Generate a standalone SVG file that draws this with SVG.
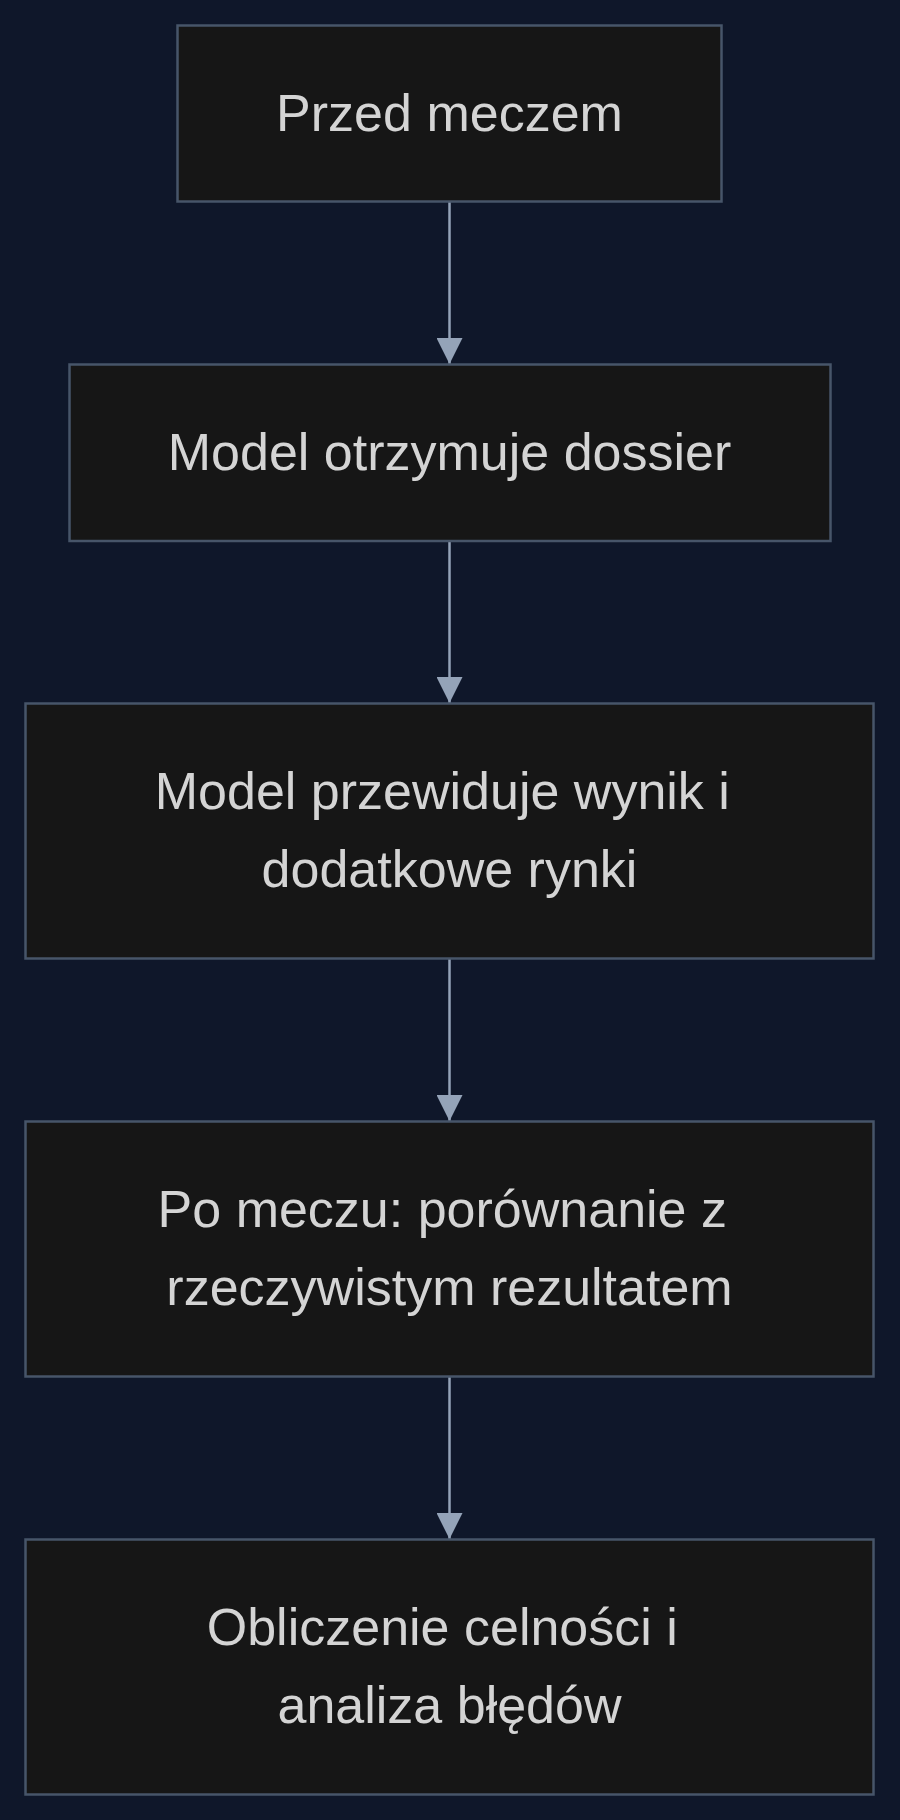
<svg xmlns="http://www.w3.org/2000/svg" width="900" height="1820" viewBox="0 0 900 1820">
<style>
.node rect{fill:#161616;stroke:#475569;stroke-width:2.5}
.node text{font-family:"Liberation Sans",Arial,sans-serif;font-size:52px;fill:#d4d4d4;text-anchor:middle}
.edge{stroke:#94a3b8;stroke-width:2.5;fill:none}
</style>
<defs>
<marker id="arr" markerUnits="userSpaceOnUse" markerWidth="26" markerHeight="26" viewBox="0 0 26 26" refX="26" refY="13" orient="auto">
<path d="M0,0 L26,13 L0,26 Z" fill="#94a3b8"/>
</marker>
</defs>
<rect width="900" height="1820" fill="#0f172a"/>
<g id="edges">
<path class="edge" d="M449.5,201.5 V364" marker-end="url(#arr)"/>
<path class="edge" d="M449.5,541 V703" marker-end="url(#arr)"/>
<path class="edge" d="M449.5,958.5 V1121" marker-end="url(#arr)"/>
<path class="edge" d="M449.5,1376.5 V1539" marker-end="url(#arr)"/>
</g>
<g id="n1" class="node">
<rect x="177.5" y="25.5" width="544" height="176"/>
<text x="449.5" y="130.5">Przed meczem</text>
</g>
<g id="n2" class="node">
<rect x="69.5" y="364.5" width="761" height="176.5"/>
<text x="449.5" y="470">Model otrzymuje dossier</text>
</g>
<g id="n3" class="node">
<rect x="25.5" y="703.5" width="848" height="255"/>
<text x="442.3" y="809">Model przewiduje wynik i</text>
<text x="449.5" y="887">dodatkowe rynki</text>
</g>
<g id="n4" class="node">
<rect x="25.5" y="1121.5" width="848" height="255"/>
<text x="442.3" y="1227">Po meczu: porównanie z</text>
<text x="449.5" y="1305">rzeczywistym rezultatem</text>
</g>
<g id="n5" class="node">
<rect x="25.5" y="1539.5" width="848" height="255"/>
<text x="442.3" y="1644.5">Obliczenie celności i</text>
<text x="449.5" y="1722.5">analiza błędów</text>
</g>
</svg>
